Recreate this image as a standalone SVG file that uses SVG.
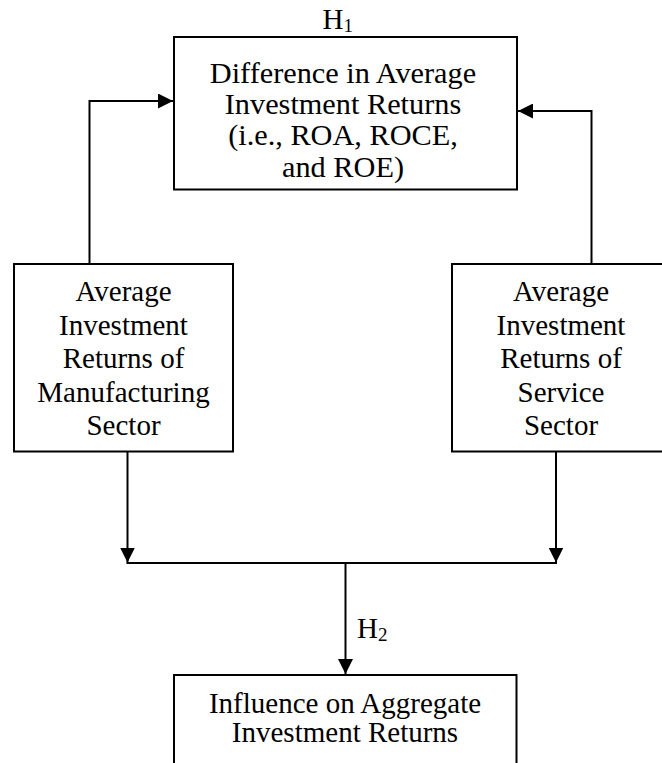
<svg xmlns="http://www.w3.org/2000/svg" width="662" height="763" viewBox="0 0 662 763">
<style>
.box{fill:#fff;stroke:#000;stroke-width:2}
.t{font-family:"Liberation Serif","Times New Roman",serif;font-size:29px;fill:#000;text-anchor:middle}
.big{font-size:30.3px}
.lbl{font-family:"Liberation Serif","Times New Roman",serif;font-size:29px;fill:#000}
.sub{font-size:19px}
.ln{fill:none;stroke:#000;stroke-width:2}
</style>
<defs>
<marker id="ah" viewBox="0 0 15 15" refX="15" refY="7.5" markerWidth="15" markerHeight="15" markerUnits="userSpaceOnUse" orient="auto">
<path d="M0,0 L15,7.5 L0,15 Z" fill="#000"/>
</marker>
</defs>
<rect width="662" height="763" fill="#fff"/>
<g id="connectors">
<polyline class="ln" points="89.5,264 89.5,101 173,101" marker-end="url(#ah)"/>
<polyline class="ln" points="591.5,264 591.5,111 518,111" marker-end="url(#ah)"/>
<line class="ln" x1="127.5" y1="451" x2="127.5" y2="562.5" marker-end="url(#ah)"/>
<line class="ln" x1="556" y1="451" x2="556" y2="562.5" marker-end="url(#ah)"/>
<line class="ln" x1="126.5" y1="563" x2="557" y2="563"/>
<line class="ln" x1="345.5" y1="563" x2="345.5" y2="674" marker-end="url(#ah)"/>
<text class="lbl" x="357" y="638">H<tspan class="sub" dy="3">2</tspan></text>
</g>
<g id="node-h1">
<rect class="box" x="174" y="37" width="343" height="152.5"/>
<text class="lbl" x="322.5" y="28.5">H<tspan class="sub" dy="3">1</tspan></text>
<text class="t big" x="343" y="82.5">Difference in Average</text>
<text class="t big" x="343" y="113.5">Investment Returns</text>
<text class="t big" x="343" y="145">(i.e., ROA, ROCE,</text>
<text class="t big" x="343" y="176.5">and ROE)</text>
</g>
<g id="node-manufacturing">
<rect class="box" x="14" y="264" width="219" height="187.5"/>
<text class="t" x="123.5" y="301">Average</text>
<text class="t" x="123.5" y="334.5">Investment</text>
<text class="t" x="123.5" y="368">Returns of</text>
<text class="t" x="123.5" y="401.5">Manufacturing</text>
<text class="t" x="123.5" y="435">Sector</text>
</g>
<g id="node-service">
<rect class="box" x="452" y="264" width="218" height="187.5"/>
<text class="t" x="561" y="301">Average</text>
<text class="t" x="561" y="334.5">Investment</text>
<text class="t" x="561" y="368">Returns of</text>
<text class="t" x="561" y="401.5">Service</text>
<text class="t" x="561" y="435">Sector</text>
</g>
<g id="node-h2">
<rect class="box" x="174" y="675" width="342.5" height="100"/>
<text class="t" x="345" y="713">Influence on Aggregate</text>
<text class="t" x="345" y="742">Investment Returns</text>
</g>
</svg>
